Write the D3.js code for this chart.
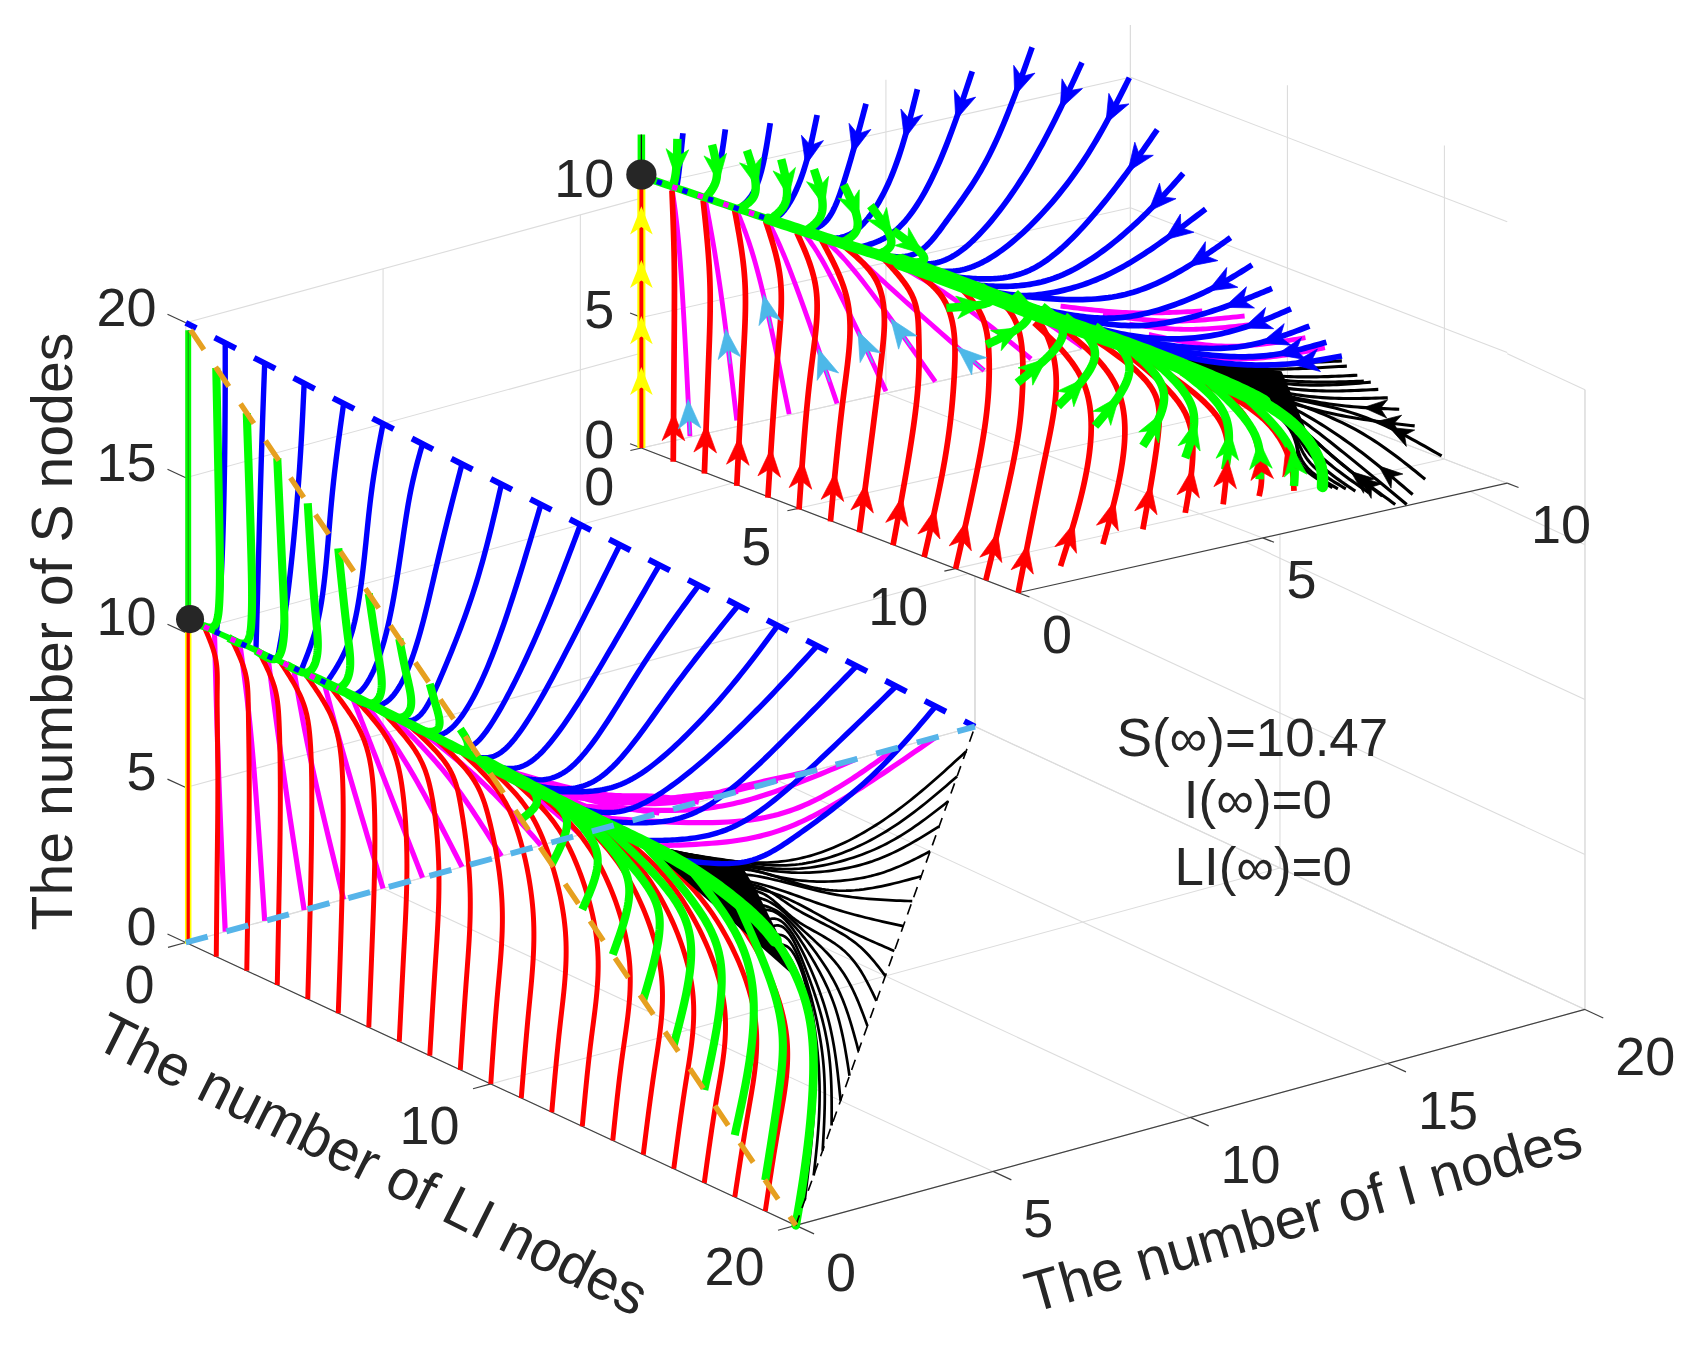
<!DOCTYPE html>
<html><head><meta charset="utf-8">
<script src="https://cdn.jsdelivr.net/npm/d3@7"></script>
<style>html,body{margin:0;padding:0;background:#fff}svg{display:block}text{font-family:"Liberation Sans",Arial,sans-serif;fill:#262626}</style>
</head><body><svg id="c"></svg>
<script>
// ---------- axis ticks ----------
const bigITicks=[0,5,10,15,20], bigLTicks=[0,10,20], bigSTicks=[0,5,10,15,20];
const smallITicks=[0,5,10], smallLTicks=[0,5,10], smallSTicks=[0,5,10];
const equilibriumS=10.47;
const notes=["S(\u221e)=10.47","I(\u221e)=0","LI(\u221e)=0"];
// ---------- large panel, [I,LI,S] readings ----------
const bigRidge=[[0,.14,10.47],[0,.6,10.47],[0,4,10.48],[0,7.3,10.4],[0,9.8,10.29],[0,12.3,10.15],[0,14,10.1],[0,16.2,10],[0,18.07,9.57],[0,19.33,8.89],[0,20.32,7.38],[0,20.58,5.19],[0,20.33,2.2],[0,20,0]];
// red: LI at S=0,3,6,8.5,9.6 then the join [LI,S]
const bigRedLevels=[0,3,6,8.5,9.6];
const bigRed=[[1,1.03,1.05,1.03,.98,.6,10.47],[2,2.05,2.08,2.05,1.95,1.5,10.47],[3,3.06,3.1,3.06,2.9,2.4,10.47],[4,4.08,4.13,4.07,3.8,3.1,10.47],[5,5.1,5.16,5.07,4.7,3.9,10.47],[6,6.12,6.2,6.06,5.6,4.7,10.45],[7,7.15,7.25,7.05,6.6,5.5,10.43],[8,8.18,8.3,8.05,7.55,6.4,10.42],[9,9.2,9.32,9.02,8.6,7.2,10.4],[10,10.22,10.37,9.95,9.4,8.1,10.36],[11,11.25,11.4,10.9,10.2,8.9,10.33],[12,12.28,12.45,11.8,11,9.7,10.3],[13,13.3,13.5,12.75,11.8,10.4,10.26],[14,14.33,14.55,13.7,12.6,11.2,10.22],[15,15.38,15.6,14.65,13.4,12,10.18],[16,16.4,16.62,15.6,14.3,12.8,10.15],[17,17.42,17.66,16.55,15.2,13.7,10.12],[18,18.45,18.68,17.55,16.1,14.5,10.1],[19,19.45,19.7,18.55,17,15.3,10.05]];
// green: [LI,S]
const bigGreen=[
[[1,19],[1.1,14],[1.1,11.5],[.9,10.6],[.5,10.47]],
[[2,18],[2.15,13.5],[2.15,11.3],[1.95,10.55],[1.4,10.47]],
[[3,17],[3.2,12.8],[3.2,11.2],[2.95,10.5],[2.3,10.47]],
[[4,16],[4.25,12.6],[4.3,11.2],[4,10.55],[3.3,10.47]],
[[5,15],[5.3,12.4],[5.35,11.1],[5,10.5],[4.3,10.47]],
[[6,14],[6.3,12.2],[6.4,11],[6.1,10.5],[5.3,10.43]],
[[7,13],[7.25,11.9],[7.36,10.9],[7,10.45],[6.3,10.42]],
[[8,12],[8.2,11.4],[8.3,10.75],[8,10.45],[7.3,10.4]],
[[9,11],[9.25,10.6],[9.1,10.35],[8.5,10.33]],
[[10.1,10.05],[9.6,10.28]],
[[11,9],[11.5,9.74],[11.37,10.1],[10.6,10.18]],
[[12,8],[12.5,9.57],[12.2,10],[11.4,10.2]],
[[13,7],[13.5,8.65],[13.25,9.46],[12.1,10.15]],
[[14,6],[14.54,8.2],[14.18,9.19],[12.6,10.13]],
[[15,5],[15.54,7.73],[15.06,8.79],[13,10.1]],
[[16,4],[16.57,7.16],[16.07,8.66],[13.6,10.1]],
[[17,3],[17.56,6.46],[17.2,8.27],[15,10.05]],
[[18,2],[18.58,5.42],[18.3,8.08],[16.5,9.95]],
[[19,1],[19.45,4.1],[19.57,5.87],[19.2,7.44],[18.07,9.57]]];
const bigBlue=[
[[1,0,19],[.985,0,15.28],[.876,0,10.98],[0,1,10.47]],
[[2,0,18],[1.915,0,14.96],[1.82,0,10.66],[0,2.3,10.47]],
[[3,0,17],[2.86,0,13.89],[2.56,0,10.12],[0,3,10.5]],
[[4,0,16],[3.69,0,12.9],[3.38,0,9.4],[0,3.78,10.5]],
[[5,0,15],[4.67,0,12.55],[4.21,0,8.54],[0,4.62,10.5]],
[[6,0,14],[5.64,0,12.2],[4.99,0,7.83],[4.34,0,6.52],[0,5.3,10.45]],
[[7,0,13],[6.41,0,10.22],[5.64,0,6.89],[4.99,0,5.96],[0,5.79,10.34]],
[[8,0,12],[7.32,0,8.89],[6.41,0,6.18],[5.77,0,5.18],[0,6.63,10.4]],
[[9,0,11],[8.1,0,7.61],[7.19,0,5.19],[6.41,0,4.46],[0,7.3,10.35]],
[[10,0,10],[8.87,0,6.77],[7.7,0,4.29],[7.06,0,3.8],[0,8.13,10.35]],
[[11,0,9],[9.65,0,6.05],[8.22,0,3.54],[7.58,0,3.32],[0,8.8,10.27]],
[[12,0,8],[10.68,0,5.56],[9,0,2.98],[8.22,0,2.75],[0,9.63,10.3]],
[[13,0,7],[11.46,0,4.72],[9.78,0,2.27],[8.87,0,2.16],[0,10.3,10.25]],
[[14,0,6],[12.23,0,3.73],[10.55,0,1.7],[9.52,0,1.64],[0,10.97,10.2]],
[[15,0,5],[13.49,0,3.08],[11.55,0,1.44],[10.38,0,1.28],[0,11.6,10.2]],
[[16,0,4],[14.06,0,2.08],[10.58,2,2.12],[9.32,2,1.87],[0,12.6,10.15]],
[[17,0,3],[12.04,4,4.14],[10.01,4,2.66],[8.65,4,2.68],[0,13.5,10.1]],
[[18,0,2],[12.91,4,3.15],[10.98,4,1.86],[9.62,4,1.82],[0,14.8,10.05]],
[[19,0,1],[14.27,4,2.2],[12.33,4,.93],[11.07,4,.57],[0,16,10]]];
const bigMagenta=[
[[1,0,0],[.83,0,5.25],[0,.94,10.47]],
[[2,0,0],[1.63,0,6.41],[0,1.77,10.47]],
[[3,0,0],[2.47,0,4.67],[0,2.69,10.47]],
[[4,0,0],[3.18,0,4.71],[0,3.53,10.47]],
[[5,0,0],[3.96,0,4.86],[0,4.53,10.47]],
[[6,0,0],[4.73,0,4.61],[0,5.45,10.43]],
[[7,0,0],[5.64,0,3.71],[0,5.88,10.43]],
[[8,0,0],[6.54,0,3.25],[0,6.63,10.42]],
[[9,0,0],[7.58,0,2.45],[0,7.63,10.38]],
[[10,0,0],[8.74,0,1.77],[0,9.49,10.3]],
[[11,0,0],[10.16,0,.84],[0,10.64,10.2]],
[[12,0,0],[7.48,4,3.71],[0,10.2,10.25]],
[[13,0,0],[8.65,4,3.54],[7.48,4,4],[0,10,10.28]],
[[14,0,0],[9.62,4,3.2],[7.97,4,3.66],[0,10.4,10.25]],
[[15,0,0],[10.4,4,2.99],[8.45,4,3.43],[0,11,10.22]],
[[16,0,0],[10.6,4,3.04],[9.04,4,3.17],[0,11.8,10.2]],
[[17,0,0],[11.36,4,2.54],[9.43,4,2.81],[0,12.5,10.15]],
[[18,0,0],[13.3,4,2.09],[11.36,4,1.85],[0,13.3,10.12]],
[[19,0,0],[13.3,4,1.62],[11.36,4,1.27],[0,15.3,10.1]]];
const bigBlack=[
[[1,19,0],[2,18,1.93],[1.91,18,5.09],[1.33,18,7.36],[0,19.5,8.6]],
[[2,18,0],[2.15,18,2.69],[1.86,18,5.9],[1.37,18,7.57],[0,19.4,8.8]],
[[3,17,0],[2.25,18,3.47],[1.81,18,6.38],[1.28,18,7.95],[0,19.2,9]],
[[4,16,0],[2.35,18,4.12],[1.76,18,6.87],[1.18,18,8.33],[0,19,9.1]],
[[5,15,0],[2.39,18,4.8],[1.71,18,7.34],[1.08,18,8.59],[0,18.8,9.2]],
[[6,14,0],[2.49,18,5.45],[1.67,18,7.7],[.99,18,8.87],[0,18.4,9.4]],
[[7,13,0],[2.59,18,5.88],[1.67,18,7.93],[.94,18,8.99],[0,18.1,9.55]],
[[8,12,0],[2.68,18,6.43],[1.62,18,8.18],[.84,18,9.26],[0,17.8,9.7]],
[[9,11,0],[2.78,18,6.97],[1.52,18,8.44],[.74,18,9.52],[0,17.5,9.8]],
[[10,10,0],[2.98,18,7.24],[1.52,18,8.79],[.65,18,9.78],[0,17.3,9.85]],
[[11,9,0],[2.49,18,7.99],[1.04,18,9.42],[0,17.17,9.86]],
[[12,8,0],[2.49,18,8.45],[.55,18,9.94],[0,17,9.86]],
[[13,7,0],[2.49,18,8.91],[.55,18,10.17],[0,16.8,9.9]],
[[14,6,0],[2.49,18,9.03],[.84,18,10.13],[.16,18,10.53],[0,16.4,10]],
[[15,5,0],[3.46,18,9.16],[1.52,18,9.71],[.16,18,10.59],[0,16,10]],
[[16,4,0],[3.46,18,9.62],[1.52,18,9.94],[.16,18,10.64],[0,15.8,10]],
[[17,3,0],[3.65,18,10.01],[1.52,18,10.06],[.07,18,10.74],[0,15.6,10]],
[[18,2,0],[3.75,18,10.43],[1.71,18,10.16],[.07,18,10.8],[0,15.4,10.05]],
[[19,1,0],[3.95,18,10.95],[2,18,10.35],[.16,18,10.76],[0,15.2,10.05]]];
// where the black fan closes up into a solid patch
const bigBlackCore=[[0,15,10.05],[.15,18,10.7],[.55,18,9.7],[1.04,18,8.27],[1.42,18,7.09],[0,20,8]];
// ---------- small panel readings ----------
const smallRidge=[[0,.1,10.47],[0,4.12,10.67],[0,6.94,10.85],[0,8.3,10.95],[0,10.7,10.98],[.69,12,10.18],[2.23,12,8.49],[3.77,12,6.68],[4.91,12,5.18],[5.69,12,3.7],[6.07,12,2.27],[6.1,12,1.47]];
const smallRed=[
[[0,1.14,0],[0,1.17,4.83],[0,1.17,7.76],[0,1.1,10.36]],
[[0,2.12,0],[0,2.26,4.61],[0,2.29,7.54],[0,2.08,10.45]],
[[0,3.14,0],[0,3.35,5.11],[0,3.39,8.05],[0,3.07,10.54]],
[[0,4.12,0],[0,4.43,5.61],[0,4.51,8.57],[0,4.05,10.55]],
[[0,5.1,0],[0,5.46,5.35],[0,5.64,8.65],[0,5.03,10.57]],
[[0,6.09,0],[0,6.51,5.1],[0,6.65,8.54],[0,5.81,10.64]],
[[0,7,0],[0,7.71,7.13],[0,7.78,8.77],[0,7.5,9.95],[0,6.51,10.74]],
[[0,8.06,0],[0,8.83,6.18],[0,8.87,8.39],[0,8.69,9.77],[0,7.78,10.82]],
[[0,9.04,0],[0,9.74,4.41],[0,9.99,7.44],[0,9.96,9.19],[0,9.53,10.31],[0,8.34,10.93]],
[[0,10.03,0],[0,10.59,3.33],[0,11.01,6.46],[0,11.08,8.69],[0,10.8,10.17],[0,9.74,11.14]],
[[0,10.98,0],[0,11.92,5.42],[0,12.13,7.7],[0,12.06,9.87],[0,11.57,10.81],[0,10.59,11.16]],
[[0,12,0],[0,12.77,5.07],[0,13.12,7.43],[0,13.19,8.92],[0,12.91,10.26],[0,12.28,10.99],[0,11.15,11.2]],
[[.85,12,.66],[1.39,12,4.26],[1.31,12,7.48],[.32,12,10.19]],
[[1.7,12,1.13],[2.12,12,4.58],[1.93,12,7.22],[.93,12,9.68]],
[[2.5,12,1.36],[2.81,12,4.92],[2.69,12,6.64],[1.54,12,9.03]],
[[3.35,12,1.63],[3.5,12,3.74],[3.31,12,5.61],[2.16,12,8.26]],
[[4.11,12,1.63],[4.19,12,3.07],[4.07,12,4.77],[2.69,12,7.66]],
[[4.83,12,1.64],[4.88,12,2.38],[4.54,12,4.83],[3.27,12,7.03]],
[[5.53,12,1.54],[5.46,12,2.65],[5,12,4.37],[3.84,12,6.34]]];
const smallGreen=[
[[0,1.27,12.42],[0,1.21,11],[0,1.1,10.45]],
[[0,2.36,12.7],[0,2.5,11.45],[0,2.15,10.55]],
[[0,3.46,12.99],[0,3.7,11.41],[0,3.14,10.57]],
[[0,4.54,13.15],[0,4.68,11.58],[0,4.12,10.59]],
[[0,5.57,13.24],[0,5.81,11.66],[0,5.24,10.67]],
[[0,6.51,13.08],[0,6.93,11.6],[0,6.37,10.75]],
[[0,7.35,12.67],[0,8,11.5],[0,7.5,10.83]],
[[0,8.06,12.04],[0,9.04,11.4],[0,8.48,10.99]],
[[0,9.74,9.86],[0,11.18,10.84],[0,10.82,11.19]],
[[0,11,9.03],[0,12.33,10.74],[0,11.9,11.43]],
[[0,11.97,8.02],[0,13.41,10.6],[0,12.75,11.31]],
[[.8,12,6.8],[1.54,12,8.52],[.93,12,10.19]],
[[1.54,12,5.72],[2.23,12,7.72],[1.54,12,9.55]],
[[2.5,12,4.55],[2.92,12,6.41],[2.16,12,8.52]],
[[3.35,12,3.73],[3.5,12,5.53],[2.69,12,7.79]],
[[4.15,12,2.95],[4.15,12,4.99],[3.23,12,7.18]],
[[4.84,12,2.28],[4.76,12,3.96],[3.84,12,6.41]],
[[5.53,12,1.73],[5.46,12,3.16],[4.54,12,5.6]]];
const smallBlue=[
[[.92,0,11.66],[.83,0,10.09],[0,1.24,10.5]],
[[1.77,0,11.44],[1.55,0,9.48],[0,2.08,10.5]],
[[2.67,0,11.3],[2.35,0,8.85],[0,3.14,10.55]],
[[3.61,0,11.21],[3.25,0,8.76],[2.8,0,7.64],[0,3.98,10.6]],
[[4.59,0,11.22],[4.14,0,8.38],[3.7,0,6.96],[0,4.96,10.65]],
[[5.62,0,11.34],[5.04,0,7.99],[4.32,0,6.4],[0,5.95,10.75]],
[[6.72,0,11.56],[5.94,0,7.91],[5.13,0,6.06],[0,6.93,10.85]],
[[7.92,0,11.97],[7.01,0,8.04],[6.2,0,6.04],[5.58,0,5.07],[0,7.64,10.9]],
[[8.92,0,10.96],[7.9,0,7.52],[6.74,0,5.08],[5.94,0,4.54],[0,8.06,10.95]],
[[9.87,0,9.97],[8.8,0,6.83],[7.37,0,4.52],[6.38,0,4.06],[0,8.76,11]],
[[10.43,0,7.75],[9.43,0,5.55],[7.99,0,3.52],[6.92,0,3.53],[0,9.46,11]],
[[10.95,0,5.85],[9.96,0,4.29],[8.53,0,3],[7.37,0,3.05],[0,10.17,11]],
[[11.4,0,4.3],[10.23,0,3.16],[9.07,0,2.48],[7.81,0,2.51],[0,10.87,11]],
[[11.9,0,2.99],[11.25,0,2.41],[9.87,0,1.72],[8.18,0,2.25],[0,10.7,11]],
[[12.33,0,1.76],[11.33,0,1.1],[9.87,0,.83],[8.72,0,1.38],[0,11.66,11]],
[[12.73,0,.69],[11.79,0,.39],[10.26,0,.34],[8.95,0,1.09],[0,12.27,11.03]],
[[5.47,12,8.54],[4.15,12,8.18],[2.62,12,8.64],[1.31,12,9.71],[.55,12,10.49]],
[[5.84,12,7.72],[4.54,12,7.51],[3.15,12,8.1],[1.93,12,9.07],[1.08,12,9.87]],
[[6.18,12,6.96],[4.92,12,6.97],[3.46,12,7.71],[2.39,12,8.55],[1.62,12,9.26]],
[[6.49,12,6.3],[5.3,12,6.48],[3.77,12,7.27],[2.85,12,8.1],[2.23,12,8.68]]];
const smallMagenta=[
[[1.06,0,0],[.83,0,7.6],[0,1.1,10.45]],
[[2,0,.2],[1.64,0,5.78],[0,2.15,10.5]],
[[3.05,0,0],[2.35,0,6.22],[0,3.14,10.55]],
[[4.01,0,0],[2.98,0,5.95],[0,4.12,10.6]],
[[4.99,0,.05],[3.7,0,5.65],[0,5.24,10.67]],
[[5.98,0,0],[4.23,0,5.27],[0,5.81,10.75]],
[[6.96,0,0],[5.13,0,3.86],[0,6.51,10.8]],
[[7.9,0,.05],[6.2,0,3.26],[0,7.64,10.9]],
[[8.93,0,.05],[7.1,0,3.02],[0,9.04,11]],
[[3.69,12,9.21],[2.23,12,9.77],[.85,12,10.61]],
[[4.54,12,8.66],[3,12,9.12],[1.7,12,9.93]],
[[4.69,12,8.27],[3.38,12,8.64],[2.23,12,9.32]],
[[5.76,12,7.31],[4.15,12,7.67],[2.62,12,8.77]],
[[6.15,12,6.76],[4.92,12,6.9],[3.6,12,7.53],[2.62,12,8.51]]];
const smallBlack=[
[[6.49,12,6.11],[4.92,12,6.65],[3.61,12,7.26],[2.6,12,8.1]],[[6.59,12,5.87],[4.99,12,6.43],[3.69,12,7.17],[2.7,12,8]],
[[6.8,12,5.43],[5.3,12,6.03],[3.77,12,7.07],[2.8,12,7.85]],[[6.93,12,5.15],[5.46,12,5.78],[3.84,12,6.92],[2.9,12,7.7]],
[[7.07,12,5.05],[5.53,12,5.62],[3.92,12,6.81],[3,12,7.6]],[[7.22,12,4.71],[5.61,12,5.39],[4,12,6.65],[3.1,12,7.45]],
[[7.41,12,4.31],[5.76,12,5.08],[4.07,12,6.5],[3.2,12,7.3]],[[7.64,12,3.77],[6.07,12,4.69],[4.23,12,6.3],[3.3,12,7.2]],
[[7.95,12,3],[6.22,12,4.24],[4.38,12,6.05],[3.4,12,7.1]],[[8.49,12,1.62],[6.68,12,4.05],[4.54,12,5.85],[3.5,12,7]],
[[8.16,12,.87],[6.76,12,3.37],[4.92,12,5.56],[3.6,12,6.85]],[[7.91,12,.39],[6.53,12,3.09],[4.99,12,5.41],[3.7,12,6.75]],
[[7.79,12,.06],[6.45,12,2.73],[5.07,12,5.17],[3.85,12,6.6]],[[7.56,12,.16],[6.3,12,2.55],[5.11,12,4.97],[4,12,6.4]],
[[7.3,12,.59],[6.15,12,2.86],[5.19,12,4.81],[4.2,12,6.1]],[[7.03,12,.84],[5.99,12,2.81],[5.26,12,4.58],[4.4,12,5.8]],
[[6.76,12,1.01],[5.88,12,2.73],[5.34,12,4.36],[4.6,12,5.55]],[[6.57,12,1.18],[5.8,12,2.63],[5.42,12,4.13],[4.8,12,5.3]],
[[6.41,12,1.25],[5.72,12,2.54],[5.49,12,3.78],[5,12,5]],[[6.3,12,1.34],[5.65,12,2.57],[5.57,12,3.5],[5.2,12,4.8]]];
const smallBlackCore=[[3.39,12,7.58],[5.28,12,6.23],[5.51,12,5.11],[5.89,12,3.17],[5,12,5],[3.4,12,7]];
// arrow placement along a curve (distance from its first point), by curve index
const smallBlackArrows=[[7,20],[8,22],[9,42],[11,28],[13,30],[14,24]];
const smallMagentaArrows=[[0,18],[1,69],[2,97],[3,37],[4,45],[5,55],[6,17]];
const yellowArrowTips=[3.1,5.05,7.2,9.25];

// ---------- scales ----------
function makeProj(lim,box){
  const ix=d3.scaleLinear([0,lim.i],[box.ox,box.ox+box.ix]), iy=d3.scaleLinear([0,lim.i],[box.oy,box.oy+box.iy]);
  const lx=d3.scaleLinear([0,lim.l],[0,box.lx]), ly=d3.scaleLinear([0,lim.l],[0,box.ly]);
  const sy=d3.scaleLinear([0,lim.s],[0,-box.s]);
  return p=>[ix(p[0])+lx(p[1]), iy(p[0])+ly(p[1])+sy(p[2])];
}
const limB={i:20,l:20,s:20}, limS={i:10,l:12,s:12};
const pB=makeProj(limB,{ox:172,oy:873,ix:731,iy:-200,lx:565,ly:262,s:574});
const pS=makeProj(limS,{ox:590,oy:415,ix:462,iy:-103,lx:353,ly:134,s:290.4});
const pSF=makeProj(limS,{ox:594,oy:415,ix:453,iy:-101.5,lx:349,ly:134,s:290.4}); // box, ticks and grid of the small panel

const svg=d3.select("#c").attr("width",1693).attr("height",1356).attr("viewBox","0 0 1568 1256");
// smooth rendering of a trajectory through its read points
function spline(pts,n=20){
  if(pts.length<3) return pts;
  const t=[0]; for(let i=1;i<pts.length;i++) t.push(t[i-1]+Math.sqrt(Math.hypot(pts[i][0]-pts[i-1][0],pts[i][1]-pts[i-1][1]))+1e-6);
  const m=pts.length, solve=k=>{
    const a=new Array(m).fill(0),b=new Array(m).fill(2),c=new Array(m).fill(0),r=new Array(m).fill(0);
    b[0]=1;b[m-1]=1;
    for(let i=1;i<m-1;i++){const h0=t[i]-t[i-1],h1=t[i+1]-t[i];a[i]=h0;b[i]=2*(h0+h1);c[i]=h1;
      r[i]=6*((pts[i+1][k]-pts[i][k])/h1-(pts[i][k]-pts[i-1][k])/h0);}
    for(let i=1;i<m;i++){const f=a[i]/b[i-1];b[i]-=f*c[i-1];r[i]-=f*r[i-1];}
    const z=new Array(m).fill(0); z[m-1]=r[m-1]/b[m-1];
    for(let i=m-2;i>=0;i--) z[i]=(r[i]-c[i]*z[i+1])/b[i];
    return z;};
  const zx=solve(0),zy=solve(1),out=[];
  const ev=(k,z,i,u)=>{const h=t[i+1]-t[i],A=(t[i+1]-u)/h,B=(u-t[i])/h;
    return A*pts[i][k]+B*pts[i+1][k]+((A*A*A-A)*z[i]+(B*B*B-B)*z[i+1])*h*h/6;};
  for(let i=0;i<m-1;i++) for(let j=0;j<n;j++){const u=t[i]+(t[i+1]-t[i])*j/n; out.push([ev(0,zx,i,u),ev(1,zy,i,u)]);}
  out.push(pts[m-1]); return out;
}
const line=d3.line();
const seg=(g,p,a,b,col,w)=>g.append("path").attr("d",d3.line()([p(a),p(b)])).attr("stroke",col).attr("stroke-width",w).attr("fill","none");

function frame(p,lim,it,lt,st,corner){
  const g=svg.append("g"), gc="#dcdcdc", I=lim.i,L=lim.l,S=lim.s;
  it.forEach(t=>{seg(g,p,[t,0,0],[t,L,0],gc,1); seg(g,p,[t,0,0],[t,0,S],gc,1);});
  lt.forEach(t=>{seg(g,p,[0,t,0],[I,t,0],gc,1); seg(g,p,[I,t,0],[I,t,S],gc,1);});
  st.forEach(t=>{seg(g,p,[0,0,t],[I,0,t],gc,1); seg(g,p,[I,0,t],[I,L,t],gc,1);});
  seg(g,p,[I,0,0],[I,0,S],gc,1);
  if(corner) seg(g,p,[I,L,0],[I,L,S],gc,1);
}
function axes(p,lim,it,lt,st){
  const g=svg.append("g"), ac="#404040", I=lim.i,L=lim.l;
  seg(g,p,[0,0,0],[0,L,0],ac,1.1); seg(g,p,[0,L,0],[I,L,0],ac,1.1);
  const k=I/20;
  st.forEach(t=>seg(g,p,[0,0,t],[0,-.6*L/20,t],ac,1.1));
  lt.forEach(t=>seg(g,p,[0,t,0],[-.45*k,t,0],ac,1.1));
  it.forEach(t=>seg(g,p,[t,L,0],[t,L+.6*L/20,0],ac,1.1));
}
function curves(p,data,col,w){
  return svg.append("g").attr("fill","none").attr("stroke",col).attr("stroke-width",w).attr("stroke-linejoin","round")
    .selectAll("path").data(data).join("path").attr("d",d=>line(spline(d.map(p))));
}
function ridgeBands(p,data,bands){
  const s=spline(data.map(p));
  bands.forEach(([a,b,w])=>svg.append("path").attr("d",line(s.slice(a*20,b*20+1))).attr("fill","none").attr("stroke","#00ff00").attr("stroke-width",w).attr("stroke-linecap","round"));
}
function arrowAt(node,dist,col,len,wid,tail){
  const a=node.getPointAtLength(dist), b=node.getPointAtLength(dist+1.5);
  const ang=Math.atan2(b.y-a.y,b.x-a.x)*180/Math.PI;
  if(tail){const q=node.getPointAtLength(Math.max(0,dist-tail));
    svg.append("path").attr("d",d3.line()([[q.x,q.y],[a.x,a.y]])).attr("stroke",col).attr("stroke-width",1.6);}
  svg.append("path").attr("d",`M${len*.6},0L${-len*.4},${-wid}L${-len*.12},0L${-len*.4},${wid}Z`)
    .attr("transform",`translate(${a.x},${a.y}) rotate(${ang})`).attr("fill",col).attr("stroke",col).attr("stroke-width",.6);
}
const pairs=a=>a.map(q=>[0,q[0],q[1]]);
const mixed=(p,a,b,col,arr,off,w)=>seg(svg,p,a,b,col,w).attr("stroke-dasharray",arr).attr("stroke-dashoffset",off);
const core=(p,pts)=>svg.append("polygon").attr("fill","#000").attr("points",pts.map(p).join(" "));

// ---------- large panel ----------
frame(pB,limB,bigITicks,bigLTicks,bigSTicks,true);
// small panel background hides the large grid behind it
svg.append("polygon").attr("fill","#fff").attr("points",[[0,0,12],[10,0,12],[10,12,12],[10,12,0],[0,12,0],[0,0,0]].map(pSF).join(" "));
axes(pB,limB,bigITicks,bigLTicks,bigSTicks);
curves(pB,bigMagenta,"#ff00ff",4.8);
curves(pB,bigRed.map(r=>[...bigRedLevels.map((s,i)=>[0,r[i],s]),[0,r[5],r[6]]]),"#ff0000",4.6);
curves(pB,bigBlack,"#000",2.5);
core(pB,bigBlackCore);
curves(pB,bigBlue,"#0000ff",5);
curves(pB,bigGreen.map(pairs),"#00ff00",7.5);
ridgeBands(pB,bigRidge,[[0,2,5.5],[2,4,8.5],[4,9,12],[8,13,8]]);
mixed(pB,[0,.6,10.47],[0,5,10.48],"#ff00ff","5 22",0,5);
mixed(pB,[0,.6,10.47],[0,5,10.48],"#0000ff","5 22",-11,5);
seg(svg,pB,[0,.08,0],[0,.08,equilibriumS],"#ffff00",6);
seg(svg,pB,[0,.08,0],[0,.08,equilibriumS],"#ff0000",3);
seg(svg,pB,[0,.08,equilibriumS],[0,.08,19.8],"#00ff00",5.5);
seg(svg,pB,[0,.08,equilibriumS],[0,.08,19.8],"#1a7a1a",.8);
const dash=(a,b,col,w,arr,off)=>seg(svg,pB,a,b,col,w).attr("stroke-dasharray",arr).attr("stroke-dashoffset",off);
dash([0,20,0],[20,0,0],"#000",1.5,"10 7",0);
dash([0,0,20],[20,0,0],"#0000ff",5.5,"22 19.05",11);
dash([0,0,20],[0,20,0],"#e6a020",5,"22 19.3",-8);
dash([0,0,0],[20,0,0],"#56b4e9",5.5,"21 18",0);
svg.append("circle").datum([0,.14,10.5]).attr("cx",d=>pB(d)[0]).attr("cy",d=>pB(d)[1]).attr("r",13).attr("fill","#262626");

// ---------- small panel ----------
frame(pSF,limS,smallITicks,smallLTicks,smallSTicks,false);
axes(pSF,limS,smallITicks,smallLTicks,smallSTicks);
const smMag=curves(pS,smallMagenta,"#ff00ff",4.5);
const smRed=curves(pS,smallRed,"#ff0000",5.3);
const smBlk=curves(pS,smallBlack,"#000",2.9);
core(pS,smallBlackCore);
const smBlu=curves(pS,smallBlue,"#0000ff",5.3);
const smGrn=curves(pS,smallGreen,"#00ff00",7.8);
ridgeBands(pS,smallRidge,[[0,1,7],[1,3,10],[3,8,15],[8,11,10.5]]);
mixed(pS,[0,.3,10.47],[0,4,10.67],"#ff00ff","5 20",0,5);
mixed(pS,[0,.3,10.47],[0,4,10.67],"#0000ff","5 20",-10,5);
seg(svg,pSF,[0,0,0],[0,0,equilibriumS],"#ffff00",7.5);
seg(svg,pSF,[0,0,0],[0,0,equilibriumS],"#ff0000",3.6);
seg(svg,pSF,[0,0,equilibriumS],[0,0,12],"#00ff00",7);
seg(svg,pSF,[0,0,equilibriumS],[0,0,12],"#111",1.2);
smRed.each(function(d,i){arrowAt(this,i<12?30:26,"#ff0000",26,10.5);});
smBlu.each(function(d,i){if(i>2)arrowAt(this,32,"#0000ff",26,10.5);});
smGrn.each(function(d,i){arrowAt(this,20,"#00ff00",26,10.5);});
smallBlackArrows.forEach(([i,dist])=>arrowAt(smBlk.nodes()[i],dist,"#000",22,8.5));
smallMagentaArrows.forEach(([i,dist])=>arrowAt(smMag.nodes()[i],dist,"#4db8e8",27,10.5,16));
yellowArrowTips.forEach(s=>{const a=pSF([0,0,s]);
  svg.append("path").attr("d","M0,0L10.5,26L0,19L-10.5,26Z").attr("transform",`translate(${a[0]},${a[1]})`).attr("fill","#ffff00");});
svg.append("circle").datum([0,0,10.47]).attr("cx",d=>pSF(d)[0]).attr("cy",d=>pSF(d)[1]).attr("r",14).attr("fill","#262626");

// ---------- text ----------
const label=(txt,x,y,size,anchor,rot)=>svg.append("text").text(txt).attr("font-size",size).attr("text-anchor",anchor||"middle").attr("dominant-baseline","central")
  .attr("transform",`translate(${x},${y}) rotate(${rot||0})`);
const tickSize=50;
bigSTicks.forEach(t=>{const a=pB([0,0,t]);label(t,a[0]-27,a[1]-15,tickSize,"end");});
bigLTicks.forEach(t=>{const a=pB([0,t,0]);label(t,a[0]-29,a[1]+38,tickSize,"end");});
bigITicks.forEach(t=>{const a=pB([t,20,0]);label(t,a[0]+28,a[1]+43,tickSize,"start");});
smallSTicks.forEach(t=>{const a=pSF([0,0,t]);label(t,a[0]-25,a[1]-8,tickSize,"end");});
smallLTicks.forEach(t=>{const a=pSF([0,t,0]);label(t,a[0]-25,a[1]+35,tickSize,"end");});
smallITicks.forEach(t=>{const a=pSF([t,12,0]);label(t,a[0]+22,a[1]+38,tickSize,"start");});
label("The number of S nodes",48,585,53,"middle",-90);
label("The number of LI nodes",345,1078,53,"middle",26.5);
label("The number of I nodes",1207,1125,53,"middle",-16);
[683,741,803].forEach((y,i)=>label(notes[i],[1160,1165,1170][i],y,49));
</script></body></html>
